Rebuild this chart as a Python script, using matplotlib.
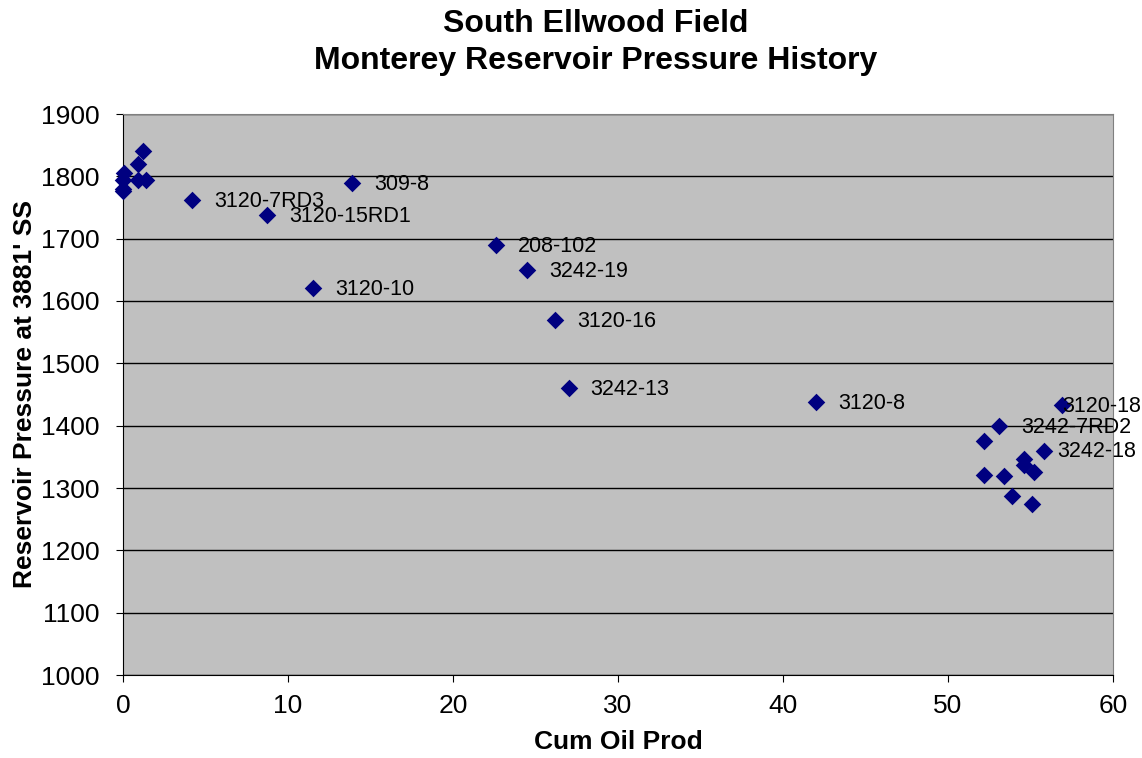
import matplotlib
matplotlib.use("Agg")
import matplotlib.pyplot as plt

plt.rcParams['font.family'] = ['Liberation Sans', 'DejaVu Sans']

# cumulative oil production vs reservoir pressure
cum_oil = [0.0, 0.05, 0.0, 0.9, 1.2, 0.9, 1.4, 0.0,
           4.2, 8.7, 13.9, 11.5, 22.6, 24.5, 26.2, 27.0, 42.0,
           56.9, 53.1, 52.2, 55.8, 54.6, 54.6, 55.2, 52.2, 53.4, 53.9, 55.1]
pressure = [1780, 1806, 1794, 1819, 1840, 1794, 1794, 1777,
            1762, 1738, 1789, 1621, 1690, 1650, 1570, 1460, 1438,
            1433, 1399, 1376, 1360, 1346, 1337, 1325, 1321, 1319, 1287, 1274]
well = ['', '', '', '', '', '', '', '',
        '3120-7RD3', '3120-15RD1', '309-8', '3120-10', '208-102', '3242-19',
        '3120-16', '3242-13', '3120-8',
        '3120-18', '3242-7RD2', '', '3242-18', '', '', '', '', '', '', '']

# labels that Excel pulled back inside the chart area
pulled_in = {'3120-18': 0, '3242-18': 10}

fig = plt.figure(figsize=(11.42, 7.58), dpi=100)
ax = fig.add_axes([123/1142, 1 - 675/758, 990/1142, 561/758])
ax.set_facecolor('#c0c0c0')

ax.scatter(cum_oil, pressure, marker='D', s=80, color='#000080', zorder=3,
           linewidths=0, clip_on=False)
for x, y, name in zip(cum_oil, pressure, well):
    if name:
        dx = pulled_in.get(name, 16)
        ax.annotate(name, (x, y), xytext=(dx, -1), textcoords='offset points',
                    fontsize=15.5, va='center', ha='left', zorder=4, annotation_clip=False)

ax.set_xlim(0, 60)
ax.set_ylim(1000, 1900)
ax.set_xticks(range(0, 61, 10))
ax.set_yticks(range(1000, 1901, 100))
ax.grid(axis='y', color='black', linewidth=1)
ax.set_axisbelow(True)
ax.tick_params(labelsize=19, direction='out', length=5)
ax.tick_params(axis='x', pad=9)
ax.tick_params(axis='y', pad=12)
for s in ['top', 'right']:
    ax.spines[s].set_color('#808080')
for s in ['left', 'bottom']:
    ax.spines[s].set_color('black')

ax.set_xlabel('Cum Oil Prod', fontsize=19, fontweight='bold', labelpad=8)
ax.set_ylabel("Reservoir Pressure at 3881' SS", fontsize=19, fontweight='bold', labelpad=3)
fig.suptitle('South Ellwood Field\nMonterey Reservoir Pressure History',
             fontsize=23, fontweight='bold', x=596/1142, y=0.988, linespacing=1.3)

fig.savefig('out.png', dpi=100)
